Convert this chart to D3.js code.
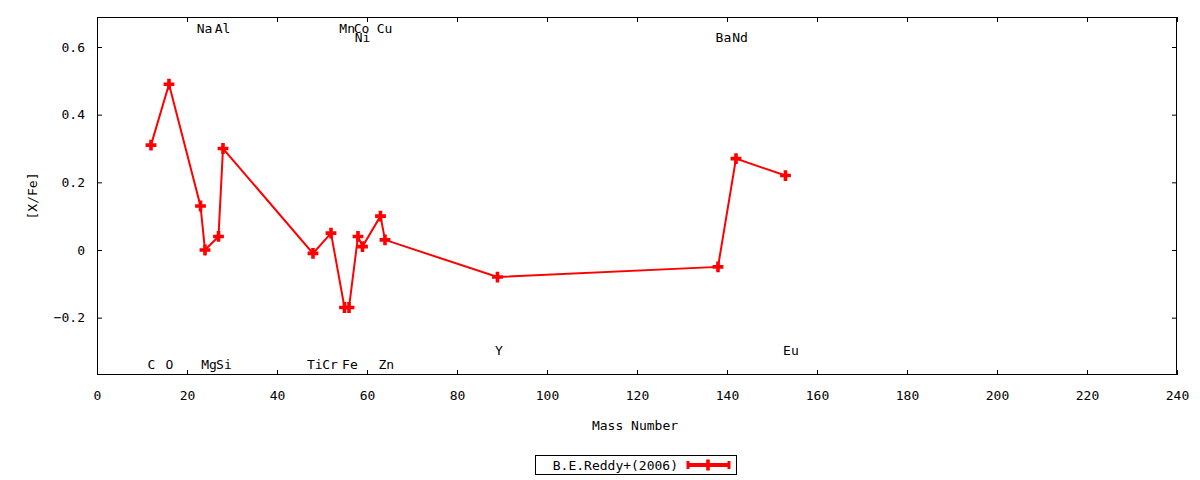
<!DOCTYPE html>
<html><head><meta charset="utf-8">
<script src="https://cdn.jsdelivr.net/npm/d3@7"></script>
<style>body{margin:0;background:#fff}svg{display:block}text{font-family:"DejaVu Sans Mono",monospace;font-size:13px;fill:#000}</style>
</head><body><svg id="c" width="1200" height="480"></svg>
<script>
const elements = ["C","O","Na","Mg","Al","Si","Ti","Cr","Mn","Fe","Ni","Co","Cu","Zn","Y","Ba","Nd","Eu"];
const massNumbers = [12,16,23,24,27,28,48,52,55,56,58,59,63,64,89,138,142,153];
const xFe = [0.31,0.49,0.13,0.00,0.04,0.30,-0.01,0.05,-0.17,-0.17,0.04,0.01,0.10,0.03,-0.08,-0.05,0.27,0.22];
const labelNames = ["C","O","Mg","Si","Ti","Cr","Fe","Zn","Y","Eu","Na","Al","Mn","Co","Cu","Ni","Ba","Nd"];
const labelX = [12.1,16.1,24.9,28.2,48.4,51.8,56.2,64.3,89.3,154.2,23.9,27.9,55.6,58.8,63.9,59,139.2,142.9];
const labelY = [-0.337,-0.337,-0.337,-0.337,-0.337,-0.337,-0.337,-0.337,-0.296,-0.296,0.656,0.656,0.656,0.656,0.656,0.627,0.627,0.627];
const xTicks = [0,20,40,60,80,100,120,140,160,180,200,220,240];
const yTicks = [-0.2,0,0.2,0.4,0.6];
const seriesName = "B.E.Reddy+(2006)";

const L=97,R=1177,T=17,B=375;
const svg=d3.select("#c");
const x=d3.scaleLinear().domain([0,240]).range([L,R]);
const y=d3.scaleLinear().domain([-0.3695,0.6887]).range([B,T]);
const fmt=d=>d===0?"0":d3.format(".1f")(d);

// axes with inward ticks
const gB=svg.append("g").attr("transform",`translate(0,${B})`).call(d3.axisBottom(x).tickValues(xTicks).tickSize(-5).tickPadding(16).tickFormat(d3.format("d")));
const gT=svg.append("g").attr("transform",`translate(0,${T})`).call(d3.axisTop(x).tickValues(xTicks).tickSize(-5).tickFormat(""));
const gL=svg.append("g").attr("transform",`translate(${L},0)`).call(d3.axisLeft(y).tickValues(yTicks).tickSize(-5).tickPadding(12).tickFormat(fmt));
const gR=svg.append("g").attr("transform",`translate(${R},0)`).call(d3.axisRight(y).tickValues(yTicks).tickSize(-5).tickFormat(""));
[gB,gT,gL,gR].forEach(g=>{g.select(".domain").remove();g.selectAll("line").attr("stroke","#000");g.selectAll("text").attr("font-family","DejaVu Sans Mono").attr("font-size",13).attr("fill","#000");});
svg.append("rect").attr("x",L+0.5).attr("y",T+0.5).attr("width",R-L-1).attr("height",B-T-1).attr("fill","none").attr("stroke","#000");

// axis titles
svg.append("text").attr("x",(L+R)/2-2).attr("y",425).attr("dy","0.35em").attr("text-anchor","middle").text("Mass Number");
svg.append("text").attr("transform",`translate(32,${(T+B)/2}) rotate(-90)`).attr("dy","0.35em").attr("text-anchor","middle").text("[X/Fe]");

// element labels
svg.append("g").selectAll("text").data(labelNames).join("text")
  .attr("x",(d,i)=>x(labelX[i])).attr("y",(d,i)=>y(labelY[i])).attr("dy","0.35em").attr("text-anchor","middle").text(d=>d);

// data
const pts=massNumbers.map((m,i)=>({m,v:xFe[i],e:elements[i]}));
svg.append("path").datum(pts).attr("fill","none").attr("stroke","#ff0000").attr("stroke-width",2)
  .attr("d",d3.line().x(d=>x(d.m)).y(d=>y(d.v)));
const sym=d3.symbol(d3.symbolCross,65);
svg.append("g").selectAll("path").data(pts).join("path").attr("d",sym).attr("fill","#ff0000")
  .attr("transform",d=>`translate(${x(d.m)},${y(d.v)})`);

// legend
const lg=svg.append("g");
lg.append("rect").attr("x",535.5).attr("y",455.5).attr("width",201).attr("height",19).attr("fill","#fff").attr("stroke","#000");
lg.append("text").attr("x",678).attr("y",465).attr("dy","0.35em").attr("text-anchor","end").text(seriesName);
lg.append("line").attr("x1",687).attr("x2",730).attr("y1",465).attr("y2",465).attr("stroke","#ff0000").attr("stroke-width",4);
lg.append("line").attr("x1",688).attr("x2",688).attr("y1",461).attr("y2",469).attr("stroke","#ff0000").attr("stroke-width",3);
lg.append("line").attr("x1",729).attr("x2",729).attr("y1",461).attr("y2",469).attr("stroke","#ff0000").attr("stroke-width",3);
lg.append("path").attr("d",sym).attr("fill","#ff0000").attr("transform","translate(708,465)");
</script></body></html>
